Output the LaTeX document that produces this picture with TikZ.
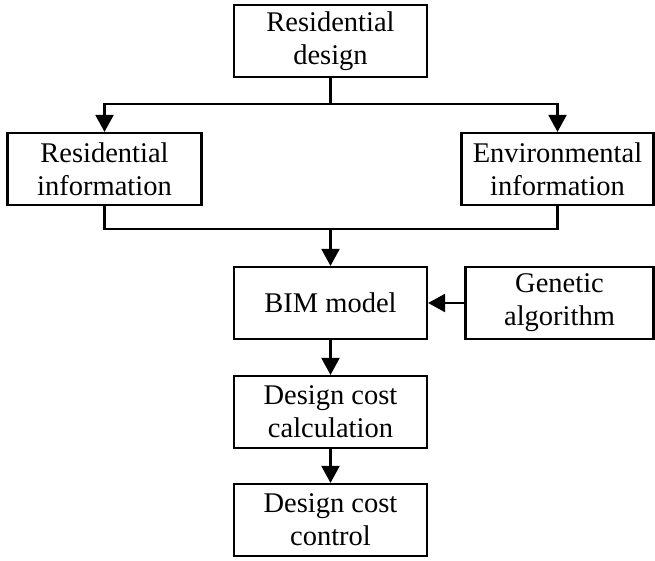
\documentclass[tikz,border=0pt]{standalone}
\usepackage{fontspec}
\setmainfont{Liberation Serif}
\usetikzlibrary{arrows.meta}
\begin{document}
\begin{tikzpicture}[x=1pt,y=-1pt,
  box/.style={draw, line width=2.2pt, minimum height=72pt, inner sep=0pt, align=center,
    font=\fontsize{28.5}{33}\selectfont},
  arr/.style={line width=2.2pt, -{Triangle[width=18pt,length=17pt]}},
  ln/.style={line width=2.2pt}]
\useasboundingbox (0,0) rectangle (655,560);
\node[box, minimum width=193pt] (rd) at (330.5,41) {Residential\\design};
\node[box, minimum width=194pt] (ri) at (104.5,169) {Residential\\information};
\node[box, minimum width=192pt] (ei) at (557.5,169) {Environmental\\information};
\node[box, minimum width=193pt] (bim) at (330.5,303) {BIM model};
\node[box, minimum width=188pt] (ga) at (559.5,303) {Genetic\\algorithm};
\node[box, minimum width=193pt] (dcc) at (330.5,412) {Design cost\\calculation};
\node[box, minimum width=193pt] (dco) at (330.5,520) {Design cost\\control};
\coordinate (j1) at (330.5,104);
\coordinate (j2) at (330.5,229);
\draw[ln] (rd.south) -- (j1);
\draw[arr] (j1) -| (ri.north);
\draw[arr] (j1) -| (ei.north);
\draw[ln] (ri.south) |- (j2) -| (ei.south);
\draw[arr] (j2) -- (bim.north);
\draw[arr] (ga.west) -- (bim.east);
\draw[arr] (bim.south) -- (dcc.north);
\draw[arr] (dcc.south) -- (dco.north);
\end{tikzpicture}
\end{document}
